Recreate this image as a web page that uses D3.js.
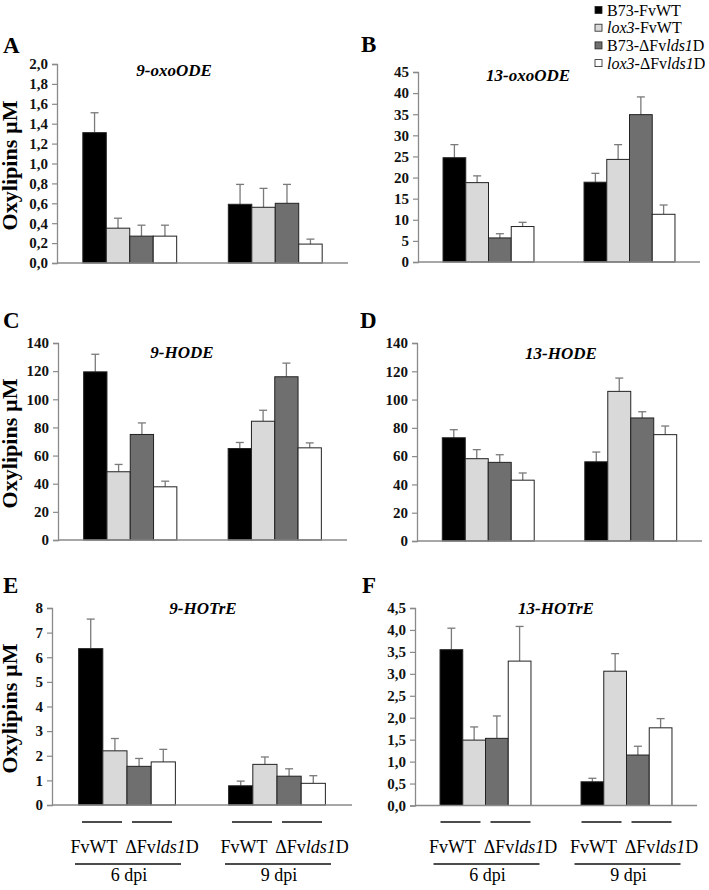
<!DOCTYPE html>
<html><head><meta charset="utf-8">
<script src="https://cdn.jsdelivr.net/npm/d3@7"></script>
<style>
body{margin:0;background:#fff}
svg{display:block}
text{font-family:"Liberation Serif","Times New Roman",serif}
</style>
</head><body>
<svg id="c" width="709" height="890"></svg>
<script>
// ---------- data ----------
const groups = ["6 dpi", "9 dpi"];
const series = ["B73-FvWT", "lox3-FvWT", "B73-ΔFvlds1D", "lox3-ΔFvlds1D"];
const compounds = ["9-oxoODE", "13-oxoODE", "9-HODE", "13-HODE", "9-HOTrE", "13-HOTrE"];
const panelLetters = ["A", "B", "C", "D", "E", "F"];

// values: [group][series]
const oxoODE9 = [[1.31, 0.35, 0.27, 0.27], [0.59, 0.56, 0.60, 0.19]];
const oxoODE9Err = [[0.20, 0.10, 0.11, 0.11], [0.20, 0.19, 0.19, 0.05]];
const oxoODE13 = [[24.7, 18.8, 5.7, 8.4], [18.9, 24.3, 34.9, 11.3]];
const oxoODE13Err = [[3.1, 1.6, 1.0, 1.0], [2.1, 3.5, 4.2, 2.2]];
const HODE9 = [[119.5, 48.5, 75.0, 37.8], [65.0, 84.4, 116.0, 65.5]];
const HODE9Err = [[12.5, 5.2, 8.2, 4.0], [4.3, 7.8, 9.7, 3.5]];
const HODE13 = [[73.0, 58.2, 55.6, 43.0], [56.0, 105.8, 87.0, 75.2]];
const HODE13Err = [[5.7, 6.4, 5.4, 5.1], [6.9, 9.4, 4.4, 6.1]];
const HOTrE9 = [[6.35, 2.20, 1.57, 1.75], [0.78, 1.65, 1.17, 0.88]];
const HOTrE9Err = [[1.20, 0.50, 0.32, 0.51], [0.19, 0.30, 0.30, 0.31]];
const HOTrE13 = [[3.55, 1.49, 1.53, 3.29], [0.54, 3.06, 1.15, 1.77]];
const HOTrE13Err = [[0.49, 0.30, 0.51, 0.79], [0.08, 0.40, 0.20, 0.21]];

const yMax = [2, 45, 140, 140, 8, 4.5];
const yStep = [0.2, 5, 20, 20, 1, 0.5];
const yDecimals = [1, 0, 0, 0, 0, 1];

const xSubLabels = ["FvWT", "ΔFvlds1D"];
const yTitle = "Oxylipins µM";

// ---------- styles / layout ----------
const seriesColors = ["#000000", "#d9d9d9", "#6f6f6f", "#ffffff"];
const axisColor = "#8a8a8a";
const errColor = "#7a7a7a";

const panelValues = [oxoODE9, oxoODE13, HODE9, HODE13, HOTrE9, HOTrE13];
const panelErrors = [oxoODE9Err, oxoODE13Err, HODE9Err, HODE13Err, HOTrE9Err, HOTrE13Err];

const layout = [
  {x0: 57, x1: 348, yTop: 64, yBase: 263, tx: 174, ty: 76, lx: 3, ly: 53, ylab: true},
  {x0: 418, x1: 700, yTop: 72, yBase: 262, tx: 528, ty: 81, lx: 361, ly: 52},
  {x0: 58, x1: 347, yTop: 343, yBase: 540, tx: 182, ty: 358, lx: 3, ly: 328, ylab: true},
  {x0: 417, x1: 702, yTop: 343, yBase: 541, tx: 561, ty: 359, lx: 360, ly: 328},
  {x0: 52, x1: 352, yTop: 608, yBase: 805, tx: 203, ty: 614, lx: 3, ly: 593, ylab: true, xlab: true},
  {x0: 415, x1: 697, yTop: 608, yBase: 805.5, tx: 556, ty: 614, lx: 362, ly: 593, xlab: true}
];

const svg = d3.select("#c");
const fmtComma = d => (d3.format(".1f")(d)).replace(".", ",");

// italic-aware text helper
function richText(sel, s) {
  const parts = s.split(/(lox3|lds1)/).filter(p => p.length);
  parts.forEach(p => {
    sel.append("tspan").text(p)
      .attr("font-style", (p === "lox3" || p === "lds1") ? "italic" : null);
  });
}

layout.forEach((L, i) => {
  const g = svg.append("g");
  const y = d3.scaleLinear().domain([0, yMax[i]]).range([L.yBase, L.yTop]);
  const x = d3.scaleBand().domain(groups).range([L.x0, L.x1]).paddingInner(0.355).paddingOuter(0.1775);
  const xs = d3.scaleBand().domain(series).range([0, x.bandwidth()]).padding(0);

  // y axis
  const tickVals = d3.range(0, yMax[i] + yStep[i] / 2, yStep[i]);
  const ax = d3.axisLeft(y).tickValues(tickVals).tickSize(5).tickPadding(4)
    .tickFormat(d => yDecimals[i] ? fmtComma(d) : d3.format("d")(d));
  const ag = g.append("g").attr("transform", `translate(${L.x0},0)`).call(ax);
  ag.select(".domain").attr("stroke", axisColor).attr("stroke-width", 1.3);
  ag.selectAll(".tick line").attr("stroke", axisColor).attr("stroke-width", 1.2);
  ag.selectAll(".tick text").attr("fill", "#111").attr("font-weight", "bold")
    .attr("font-size", 15).style("font-family", '"Liberation Serif",serif');

  // bars
  groups.forEach((grp, gi) => {
    series.forEach((s, si) => {
      const v = panelValues[i][gi][si];
      const e = panelErrors[i][gi][si];
      const bx = x(grp) + xs(s);
      const cx = bx + xs.bandwidth() / 2;
      g.append("line").attr("x1", cx).attr("x2", cx).attr("y1", y(v)).attr("y2", y(v + e))
        .attr("stroke", errColor).attr("stroke-width", 1.3);
      g.append("line").attr("x1", cx - 4).attr("x2", cx + 4).attr("y1", y(v + e)).attr("y2", y(v + e))
        .attr("stroke", errColor).attr("stroke-width", 1.3);
      g.append("rect").attr("x", bx).attr("y", y(v)).attr("width", xs.bandwidth())
        .attr("height", y(0) - y(v)).attr("fill", seriesColors[si])
        .attr("stroke", "#222").attr("stroke-width", 1);
    });
  });

  // x axis baseline
  g.append("line").attr("x1", L.x0).attr("x2", L.x1).attr("y1", L.yBase).attr("y2", L.yBase)
    .attr("stroke", axisColor).attr("stroke-width", 1.5);

  // title
  g.append("text").attr("x", L.tx).attr("y", L.ty).attr("text-anchor", "middle")
    .attr("font-size", 17).attr("font-weight", "bold").attr("font-style", "italic")
    .text(compounds[i]);

  // panel letter
  g.append("text").attr("x", L.lx).attr("y", L.ly).attr("font-size", 23).attr("font-weight", "bold")
    .text(panelLetters[i]);

  // y title
  if (L.ylab) {
    const yc = (L.yTop + L.yBase) / 2 + 2;
    g.append("text").attr("transform", `translate(17,${yc}) rotate(-90)`)
      .attr("text-anchor", "middle").attr("font-size", 20).attr("font-weight", "bold")
      .attr("textLength", 130).attr("lengthAdjust", "spacingAndGlyphs")
      .text(yTitle);
  }

  // bottom labels
  if (L.xlab) {
    groups.forEach((grp, gi) => {
      const c = x(grp) + x.bandwidth() / 2;
      [[-45, -5], [5, 45]].forEach(([a, b]) => {
        g.append("line").attr("x1", c + a).attr("x2", c + b).attr("y1", 822).attr("y2", 822)
          .attr("stroke", "#111").attr("stroke-width", 1.5);
      });
      const t1 = g.append("text").attr("x", c - 33).attr("y", 853).attr("text-anchor", "middle")
        .attr("font-size", 18);
      richText(t1, xSubLabels[0]);
      const t2 = g.append("text").attr("x", c + 35).attr("y", 853).attr("text-anchor", "middle")
        .attr("font-size", 18);
      richText(t2, xSubLabels[1]);
      g.append("line").attr("x1", c - 52).attr("x2", c + 54).attr("y1", 864).attr("y2", 864)
        .attr("stroke", "#111").attr("stroke-width", 1.5);
      g.append("text").attr("x", c + 2).attr("y", 881).attr("text-anchor", "middle")
        .attr("font-size", 18).text(grp);
    });
  }
});

// legend
const leg = svg.append("g");
series.forEach((s, si) => {
  const cy = 10 + si * 17.7;
  leg.append("rect").attr("x", 595).attr("y", cy - 3.5).attr("width", 7).attr("height", 7)
    .attr("fill", seriesColors[si]).attr("stroke", "#222").attr("stroke-width", 0.8);
  const t = leg.append("text").attr("x", 607).attr("y", cy + 5.5).attr("font-size", 16);
  richText(t, s);
});
</script>
</body></html>
